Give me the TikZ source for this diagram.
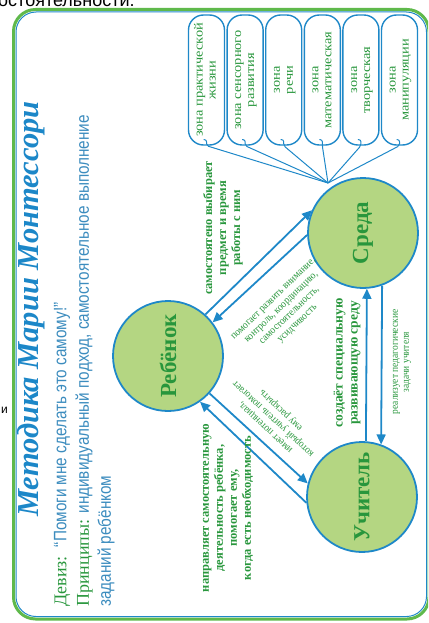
\documentclass[tikz,border=0pt]{standalone}
\usepackage{graphicx}
\usepackage{fontspec}
\setmainfont{Liberation Serif}
\setsansfont{Liberation Sans}
\newfontfamily\narrowsans[FakeStretch=0.85]{Liberation Sans}
\newfontfamily\narrowserif[FakeStretch=0.9]{Liberation Serif}
\newfontfamily\wideserif[FakeStretch=1.15]{Liberation Serif}
\usetikzlibrary{arrows.meta}
\definecolor{lineblue}{RGB}{30,136,200}
\definecolor{titleblue}{RGB}{28,135,200}
\definecolor{leafgreen}{RGB}{40,150,60}
\definecolor{ballfill}{RGB}{180,214,130}
\definecolor{framegreen}{RGB}{95,185,75}
\definecolor{mottoblue}{RGB}{60,140,190}

\begin{document}
\begin{tikzpicture}[x=1pt,y=-1pt,
    place/.style={circle,draw=lineblue,line width=1.8pt,fill=ballfill,minimum size=110pt,inner sep=0pt,text=leafgreen,font=\fontsize{23}{23}\selectfont\bfseries},
    zone/.style={rectangle,rounded corners=15pt,draw=lineblue,line width=1.4pt,minimum width=36pt,minimum height=130pt,inner sep=1pt,text=leafgreen,font=\wideserif\fontsize{12.5}{13}\selectfont},
    link/.style={draw=lineblue,line width=1pt,rounded corners=2pt},
    arr/.style={draw=lineblue,line width=1.8pt,-{Triangle[length=10pt,width=9pt]}},
    boldnote/.style={rotate=90,align=center,text=leafgreen,font=\fontsize{12.5}{14}\selectfont\bfseries},
    thinnote/.style={align=center,text=leafgreen,font=\narrowserif\fontsize{10.5}{11.5}\selectfont},
    motto/.style={rotate=90,anchor=west,inner sep=0pt,font=\fontsize{18}{18}\selectfont}]
  \useasboundingbox (0,0) rectangle (428,623);
  \clip (0,0) rectangle (428,623);

  % cut-off text of the page around the picture
  \node[anchor=base west,inner sep=0pt,font=\sffamily\fontsize{18}{18}\selectfont] (cut) at (-2,7) {остоятельности.};
  \node[anchor=east,inner sep=0pt,font=\sffamily\fontsize{12}{12}\selectfont] (cut2) at (8,410) {и};

  % frame
  \draw[framegreen,line width=3pt,rounded corners=22pt] (13.5,9.5) rectangle (429,619);
  \draw[lineblue,line width=1pt,rounded corners=20pt] (16,12) rectangle (426.5,616.5);

  % heading
  \node[rotate=90,anchor=west,inner sep=0pt,text=titleblue,font=\fontsize{30.5}{30.5}\selectfont\bfseries\itshape] (title) at (31,517) {Методика Марии Монтессори};
  \node[motto] (motto) at (62,607) {\textcolor{leafgreen}{Девиз:}\ \ {\narrowsans\color{mottoblue}“Помоги мне сделать это самому!”}};
  \node[motto] (rules) at (84,607) {\textcolor{leafgreen}{Принципы:} {\narrowsans\color{mottoblue}индивидуальный подход, самостоятельное выполнение}};
  \node[motto] (rules2) at (106,607) {\narrowsans\color{mottoblue}заданий ребёнком};

  % zones
  \foreach \a/\b [count=\i] in {зона практической/жизни, зона сенсорного/развития, зона/речи, зона/математическая, зона/творческая, зона/манипуляции}
    \node[zone] (z\i) at ({167.9+38.6*\i},80) {\rotatebox{90}{\begin{tabular}{@{}c@{}}\a\\\b\end{tabular}}};

  % the three parts
  \node[place] (r) at (168,356) {\rotatebox{90}{Ребёнок}};
  \node[place] (s) at (363,233) {\rotatebox{90}{Среда}};
  \node[place] (u) at (362,497) {\rotatebox{90}{Учитель}};

  \coordinate (hub) at (328,183);
  \foreach \i in {1,...,6}{ \draw[link] (hub) -- (z\i.south) -- ++(0,-6) -- ++(-3,0); }

  \draw[arr] (r.48) -- (s.156);
  \draw[arr] (s.182) -- (r.37);
  \draw[arr] (u.86) -- (s.-86);
  \draw[arr] (s.-70) -- (u.70);
  \draw[arr] (r.-42) -- (u.166);
  \draw[arr] (u.186) -- (r.-55);

  \node[boldnote] (choose) at (223,228) {самостоятено выбирает\\предмет и время\\работы с ним};
  \node[thinnote,rotate=44] (help) at (286,312) {помогает развить внимание,\\контроль, координацию,\\самостоятельность,\\усидчивость};
  \node[thinnote,rotate=137] (open) at (274,418) {имеет потенциал,\\который учитель помогает\\ему раскрыть};
  \node[boldnote,font=\fontsize{13.5}{15}\selectfont\bfseries] (create) at (347,363) {создаёт специальную\\развивающую среду};
  \node[thinnote,rotate=90,font=\narrowserif\fontsize{10.5}{11}\selectfont] (realize) at (402,362) {реализует педагогические\\задачи учителя};
  \node[boldnote] (guide) at (228,508) {направляет самостоятельную\\деятельность ребёнка,\\помогает ему,\\когда есть необходимость};
\end{tikzpicture}
\end{document}
